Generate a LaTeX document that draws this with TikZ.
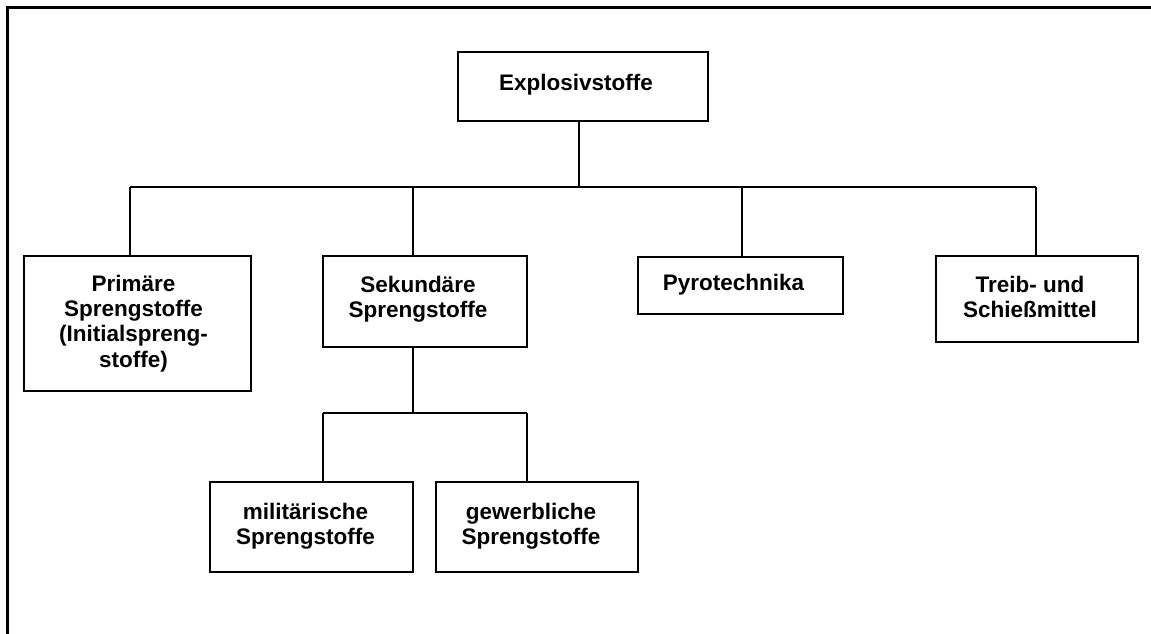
\documentclass[tikz,border=0pt]{standalone}
\usepackage{fontspec}
\setmainfont{Liberation Sans}
\begin{document}
\begin{tikzpicture}[x=1pt,y=-1pt,
  box/.style={draw=black,line width=2pt,inner sep=0pt,fill=white},
  lbl/.style={inner sep=0pt,align=center,font=\bfseries\fontsize{22.5}{25.3}\selectfont},
  conn/.style={draw=black,line width=1.6pt},
  frame/.style={draw=black,line width=3pt}]
\useasboundingbox (0,0) rectangle (1151,634);
% outer frame (only top and left visible)
\draw[frame] (7.5,640) -- (7.5,8) -- (1160,8);
% boxes (centre, width x height)
\node[box,minimum width=250pt,minimum height=68pt] (expl)  at (583,86.5) {};
\node[box,minimum width=227pt,minimum height=135pt] (prim) at (137.5,323.5) {};
\node[box,minimum width=204pt,minimum height=91pt] (sek)   at (425,301.5) {};
\node[box,minimum width=205pt,minimum height=57pt] (pyro)  at (740.5,285.5) {};
\node[box,minimum width=202pt,minimum height=86pt] (treib) at (1037,299) {};
\node[box,minimum width=203pt,minimum height=90pt] (mil)   at (311.5,527) {};
\node[box,minimum width=202pt,minimum height=90pt] (gew)   at (537,527) {};
% labels
\node[lbl] (explt)  at ([shift={(-7,-2)}]expl.center) {Explosivstoffe};
\node[lbl] (primt)  at ([shift={(-4,0)}]prim.center) {Primäre\\Sprengstoffe\\(Initialspreng-\\stoffe)};
\node[lbl] (sekt)   at ([shift={(-7,-2)}]sek.center) {Sekundäre\\Sprengstoffe};
\node[lbl] (pyrot)  at ([shift={(-7,-1)}]pyro.center) {Pyrotechnika};
\node[lbl] (treibt) at ([shift={(-7,-2)}]treib.center) {Treib- und\\Schießmittel};
\node[lbl] (milt)   at ([shift={(-6,-1)}]mil.center) {militärische\\Sprengstoffe};
\node[lbl] (gewt)   at ([shift={(-6,-1)}]gew.center) {gewerbliche\\Sprengstoffe};
% connector junctions
\coordinate (j0) at (579,187);
\coordinate (jp) at (130,187);
\coordinate (js) at (413,187);
\coordinate (jy) at (742,187);
\coordinate (jt) at (1036,187);
\coordinate (k0) at (413,413);
\coordinate (km) at (323,413);
\coordinate (kg) at (527,413);
% first level
\draw[conn] (expl.south -| j0) -- (j0);
\draw[conn] (jp) -- (jt);
\draw[conn] (jp) -- (jp |- prim.north);
\draw[conn] (js) -- (js |- sek.north);
\draw[conn] (jy) -- (jy |- pyro.north);
\draw[conn] (jt) -- (jt |- treib.north);
% second level
\draw[conn] (sek.south -| k0) -- (k0);
\draw[conn] (km) -- (kg);
\draw[conn] (km) -- (km |- mil.north);
\draw[conn] (kg) -- (kg |- gew.north);
\end{tikzpicture}
\end{document}
